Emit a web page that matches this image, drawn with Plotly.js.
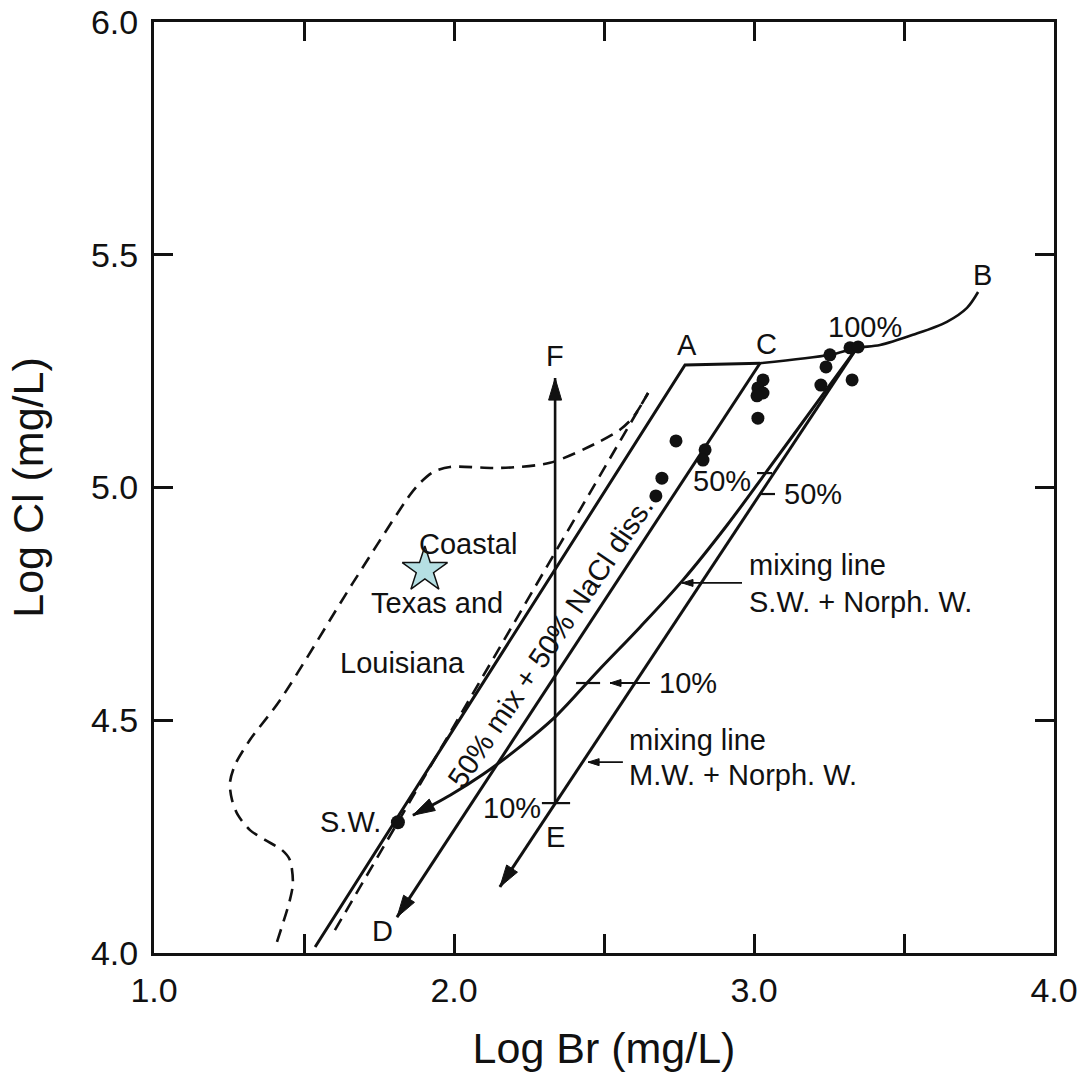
<!DOCTYPE html>
<html>
<head>
<meta charset="utf-8">
<script src="https://cdn.plot.ly/plotly-3.0.1.min.js"></script>
<style>html,body{margin:0;padding:0;background:#fff}</style>
</head>
<body>
<div id="chart" style="width:1083px;height:1084px"></div>
<script>
// ---- Br / Cl relationships, all values log10(mg/L) ----

// seawater evaporation path: up to halite saturation (A), then along the halite stage to C
const evapBr = [1.537, 2.770, 3.020];
const evapCl = [4.013, 5.263, 5.267];

// continuation of the evaporation path C -> 100% -> B
const haliteBr = [3.020, 3.253, 3.343, 3.420, 3.530, 3.643, 3.710, 3.747];
const haliteCl = [5.267, 5.285, 5.300, 5.306, 5.328, 5.356, 5.386, 5.420];

// 50% mix + 50% NaCl dissolution line, C -> D
const naclBr = [3.020, 1.810];
const naclCl = [5.267, 4.077];

// dashed companion line
const dashBr = [1.603, 2.647];
const dashCl = [4.049, 5.203];

// Coastal Texas and Louisiana field boundary
const coastBr = [1.410, 1.453, 1.463, 1.453, 1.427, 1.370, 1.320, 1.280, 1.260, 1.253, 1.270, 1.320, 1.420,
                 1.663, 1.853, 1.887, 1.930, 1.987, 2.153, 2.320, 2.477, 2.553, 2.597, 2.647];
const coastCl = [4.024, 4.114, 4.150, 4.200, 4.221, 4.243, 4.264, 4.296, 4.329, 4.365, 4.404, 4.458, 4.543,
                 4.795, 4.984, 5.010, 5.033, 5.044, 5.042, 5.053, 5.096, 5.124, 5.151, 5.203];

// mixing line M.W. + Norph. W. (straight)
const mwBr = [3.343, 2.153];
const mwCl = [5.300, 4.142];

// mixing line S.W. + Norph. W. (curved)
const swBr = [3.343, 3.197, 3.043, 2.910, 2.763, 2.620, 2.480, 2.340, 2.210, 2.097, 1.987, 1.863];
const swCl = [5.300, 5.171, 5.035, 4.919, 4.801, 4.700, 4.606, 4.509, 4.438, 4.384, 4.339, 4.296];

// vertical trend E -> F
const efBr = [2.337, 2.337];
const efCl = [4.322, 5.235];

// formation water samples
const sampleBr = [2.740, 2.693, 2.673, 2.837, 2.830, 3.030, 3.013, 3.030, 3.010, 3.013,
                  3.253, 3.240, 3.223, 3.320, 3.347, 3.327];
const sampleCl = [5.100, 5.020, 4.982, 5.081, 5.059, 5.231, 5.214, 5.203, 5.197, 5.149,
                  5.285, 5.259, 5.220, 5.300, 5.302, 5.231];

// seawater (S.W.)
const seawaterBr = [1.813];
const seawaterCl = [4.281];

// star symbol in the coastal field
const starBr = [1.903];
const starCl = [4.823];

// short cross ticks at the 10% / 50% mixing positions
const markX0 = [2.407, 2.293, 3.010, 3.017];
const markX1 = [2.487, 2.387, 3.060, 3.070];
const markY  = [4.580, 4.322, 5.031, 4.986];

// ---- geometry of the plot frame ----
const W = 1083, H = 1084;
const M = {l: 154, r: 29, t: 22, b: 131};
const X_RANGE = [1, 4], Y_RANGE = [4, 6];
const PX_X = (W - M.l - M.r) / (X_RANGE[1] - X_RANGE[0]);
const PX_Y = (H - M.t - M.b) / (Y_RANGE[1] - Y_RANGE[0]);

const INK = '#111';
const FONT = 'Liberation Sans, Arial, Helvetica, sans-serif';

function line(x, y, opts) {
  return Object.assign({
    type: 'scatter', mode: 'lines', x: x, y: y,
    line: {color: INK, width: 3},
    hoverinfo: 'skip', showlegend: false
  }, opts || {});
}

// filled arrowhead at (x1,y1) pointing away from (x0,y0); len/wid in pixels
function arrowHead(x0, y0, x1, y1, len, wid) {
  const dx = (x1 - x0) * PX_X, dy = (y1 - y0) * PX_Y;
  const d = Math.hypot(dx, dy), ux = dx / d, uy = dy / d;
  const bx = -ux * len, by = -uy * len;
  const nx = -uy * wid / 2, ny = ux * wid / 2;
  const pts = [[0, 0], [bx + nx, by + ny], [bx - nx, by - ny], [0, 0]];
  return {
    type: 'scatter', mode: 'lines',
    x: pts.map(p => x1 + p[0] / PX_X),
    y: pts.map(p => y1 + p[1] / PX_Y),
    fill: 'toself', fillcolor: INK,
    line: {color: INK, width: 1},
    hoverinfo: 'skip', showlegend: false
  };
}

function last2(arrX, arrY) {
  const n = arrX.length;
  return [arrX[n - 2], arrY[n - 2], arrX[n - 1], arrY[n - 1]];
}

const traces = [];

// field boundary and dashed line
traces.push(line(coastBr, coastCl, {line: {color: INK, width: 2.6, dash: '13px,8px', shape: 'spline', smoothing: 0.8}}));
traces.push(line(dashBr, dashCl, {line: {color: INK, width: 2.6, dash: '13px,8px'}}));

// evaporation path
traces.push(line(evapBr, evapCl));
traces.push(line(haliteBr, haliteCl, {line: {color: INK, width: 2.6, shape: 'spline', smoothing: 0.9}}));

// C -> D
traces.push(line(naclBr, naclCl));
traces.push(arrowHead(...last2(naclBr, naclCl), 22, 13));

// mixing lines
traces.push(line(mwBr, mwCl));
traces.push(arrowHead(...last2(mwBr, mwCl), 22, 13));
traces.push(line(swBr, swCl, {line: {color: INK, width: 3, shape: 'spline', smoothing: 1}}));
traces.push(arrowHead(...last2(swBr, swCl), 22, 13));

// E -> F
traces.push(line(efBr, efCl, {line: {color: INK, width: 2.6}}));
traces.push(arrowHead(...last2(efBr, efCl), 22, 13));

// cross ticks
const tx = [], ty = [];
markY.forEach((y, i) => { tx.push(markX0[i], markX1[i], null); ty.push(y, y, null); });
traces.push(line(tx, ty, {line: {color: INK, width: 2.2}}));

// pointer arrows of the labels
const pointers = [
  {x: [2.960, 2.760], y: [4.795, 4.795]},   // mixing line S.W. + Norph. W.
  {x: [2.563, 2.447], y: [4.410, 4.410]},   // mixing line M.W. + Norph. W.
  {x: [2.653, 2.520], y: [4.580, 4.580]}    // 10%
];
pointers.forEach(p => {
  traces.push(line(p.x, p.y, {line: {color: INK, width: 1.8}}));
  traces.push(arrowHead(p.x[0], p.y[0], p.x[1], p.y[1], 11, 7));
});

// samples
traces.push({
  type: 'scatter', mode: 'markers', x: sampleBr, y: sampleCl,
  marker: {color: INK, size: 13, line: {width: 0}},
  hoverinfo: 'x+y', showlegend: false
});
traces.push({
  type: 'scatter', mode: 'markers', x: seawaterBr, y: seawaterCl,
  marker: {color: INK, size: 14},
  hoverinfo: 'x+y', showlegend: false
});
traces.push({
  type: 'scatter', mode: 'markers', x: starBr, y: starCl,
  marker: {symbol: 'star', color: '#b5dfe3', size: 34, line: {color: INK, width: 1.5}},
  hoverinfo: 'x+y', showlegend: false
});

function label(text, x, y, xanchor, extra) {
  return Object.assign({
    text: text, x: x, y: y, xref: 'x', yref: 'y',
    xanchor: xanchor || 'center', yanchor: 'middle',
    showarrow: false, font: {family: FONT, size: 29, color: INK}
  }, extra || {});
}

const annotations = [
  label('A', 2.777, 5.306),
  label('C', 3.043, 5.308),
  label('F', 2.337, 5.283),
  label('B', 3.763, 5.457),
  label('D', 1.760, 4.047),
  label('E', 2.337, 4.249),
  label('100%', 3.370, 5.345),
  label('50%', 2.997, 5.014, 'right'),
  label('50%', 3.093, 4.986, 'left'),
  label('10%', 2.677, 4.580, 'left'),
  label('10%', 2.193, 4.311),
  label('S.W.', 1.763, 4.281, 'right'),
  label('Coastal', 1.877, 4.879, 'left'),
  label('Texas and', 1.943, 4.752),
  label('Louisiana', 1.827, 4.623),
  label('mixing line', 2.977, 4.833, 'left'),
  label('S.W. + Norph. W.', 2.977, 4.754, 'left'),
  label('mixing line', 2.577, 4.458, 'left'),
  label('M.W. + Norph. W.', 2.577, 4.382, 'left'),
  label('50% mix + 50% NaCl diss.', 2.322, 4.668, 'center', {textangle: -56})
];

const axisCommon = {
  showgrid: false, zeroline: false,
  showline: true, linecolor: INK, linewidth: 3, mirror: 'ticks',
  ticks: 'inside', ticklen: 19, tickwidth: 3, tickcolor: INK,
  tickfont: {family: FONT, size: 34, color: INK},
  automargin: false, fixedrange: true
};

const layout = {
  width: W, height: H,
  margin: M,
  paper_bgcolor: '#fff', plot_bgcolor: '#fff',
  showlegend: false,
  font: {family: FONT, color: INK},
  xaxis: Object.assign({}, axisCommon, {
    range: X_RANGE,
    tickmode: 'array',
    tickvals: [1, 1.5, 2, 2.5, 3, 3.5, 4],
    ticktext: ['1.0', '', '2.0', '', '3.0', '', '4.0'],
    ticklabelstandoff: 5,
    title: {text: 'Log Br (mg/L)', font: {family: FONT, size: 43, color: INK}, standoff: 26}
  }),
  yaxis: Object.assign({}, axisCommon, {
    range: Y_RANGE,
    tickmode: 'array',
    tickvals: [4, 4.5, 5, 5.5, 6],
    ticktext: ['4.0', '4.5', '5.0', '5.5', '6.0'],
    ticklabelstandoff: 6,
    title: {text: 'Log Cl (mg/L)', font: {family: FONT, size: 43, color: INK}, standoff: 34}
  }),
  annotations: annotations
};

Plotly.newPlot('chart', traces, layout, {displayModeBar: false, staticPlot: true});
</script>
</body>
</html>
